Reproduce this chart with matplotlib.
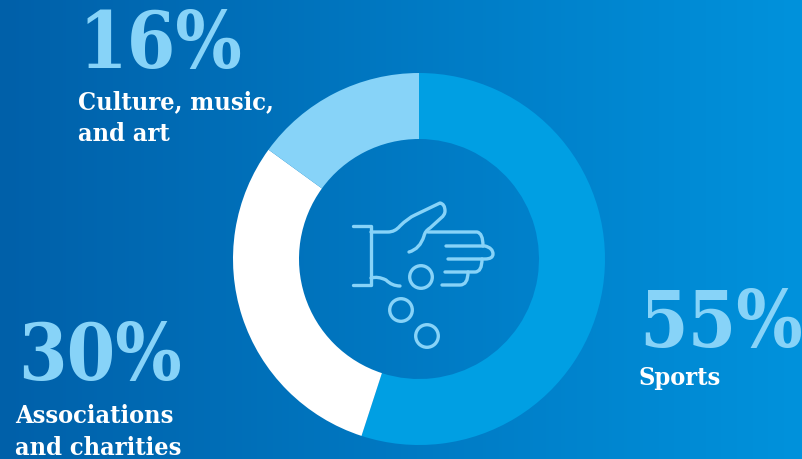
import numpy as np
import matplotlib
matplotlib.use("Agg")
import matplotlib.pyplot as plt
from matplotlib.patches import Circle, PathPatch
from matplotlib.path import Path

# the ring is drawn as 55/30/15 in the source although its label says 16%
arc_shares = [55, 30, 15]
labels = ["Sports", "Associations\nand charities", "Culture, music,\nand art"]
pct_labels = ["55%", "30%", "16%"]
slice_colors = ["#009fe3", "#ffffff", "#87d3f8"]

W, H = 803, 460
plt.rcParams['font.family'] = ['DejaVu Serif']
plt.rcParams['font.stretch'] = 'condensed'

fig = plt.figure(figsize=(W / 100, H / 100), dpi=100)

# background gradient, dark on the left to lighter on the right
bg = fig.add_axes([0, 0, 1, 1])
grad = np.linspace(0, 1, 256).reshape(1, -1)
cmap = matplotlib.colors.LinearSegmentedColormap.from_list("bg", ["#0060a9", "#0092dc"])
bg.imshow(grad, cmap=cmap, aspect="auto", extent=[0, W, H, 0])
bg.set_xlim(0, W)
bg.set_ylim(H, 0)
bg.axis("off")

# donut centred at pixel (419, 260), outer radius 186
R = 186
ax = fig.add_axes([(419 - R) / W, 1 - (260 + R) / H, 2 * R / W, 2 * R / H])
ax.pie(arc_shares, colors=slice_colors, startangle=90, counterclock=False, radius=1,
       wedgeprops=dict(width=66 / R, linewidth=0))
ax.set_xlim(-1, 1)
ax.set_ylim(-1, 1)
ax.set_aspect("equal")

pct_color = "#87d3f8"
pct_size = 56
label_size = 18.2


def put(x, y, s, color, size):
    bg.text(x, y, s, color=color, fontsize=size, fontweight="bold", va="baseline")


put(78, 68, pct_labels[2], pct_color, pct_size)
put(78, 109, "Culture, music,", "white", label_size)
put(78, 141, "and art", "white", label_size)
put(18, 380, pct_labels[1], pct_color, pct_size)
put(15, 423, "Associations", "white", label_size)
put(15, 455, "and charities", "white", label_size)
put(639, 347, pct_labels[0], pct_color, pct_size)
put(639, 385, labels[0], "white", label_size)

# hand icon, traced in pixels
M, L, C = Path.MOVETO, Path.LINETO, Path.CURVE3
hand_segments = [
    [(353, 227, M), (371, 227, L), (371, 286, L), (353, 286, L)],
    [(371, 233, M), (388, 233, L), (395, 233, C), (400, 227, C), (408, 219, C), (415, 216, C),
     (440, 204, L), (445, 205, C), (445, 212, C), (445, 216, C), (441, 219, C), (430, 229, L),
     (425, 232, C), (424, 237, C), (420, 250, C), (409, 253, C)],
    [(428, 233, M), (477, 233, L), (483, 234, C), (483, 247, C)],
    [(446, 247, M), (485, 247, L), (493, 249, C), (493, 255, C), (493, 260, C), (485, 260, C),
     (448, 260, L)],
    [(482, 260, M), (482, 273, C), (475, 273, C), (445, 273, L)],
    [(468, 273, M), (468, 286, C), (460, 286, C), (442, 286, L)],
    [(371, 279, M), (378, 277, C), (386, 281, C), (392, 287, C), (400, 287, C)],
]
icon_color = "#87d3f8"
for seg in hand_segments:
    verts = [(x, y) for x, y, _ in seg]
    codes = [c for _, _, c in seg]
    bg.add_patch(PathPatch(Path(verts, codes), fill=False, edgecolor=icon_color, lw=2.4,
                           capstyle="round", joinstyle="round", zorder=5))
for cx, cy in [(421, 278), (401, 311), (427, 337)]:
    bg.add_patch(Circle((cx, cy), 11.3, fill=False, edgecolor=icon_color, lw=2.4, zorder=5))

fig.savefig("out.png", dpi=100)
